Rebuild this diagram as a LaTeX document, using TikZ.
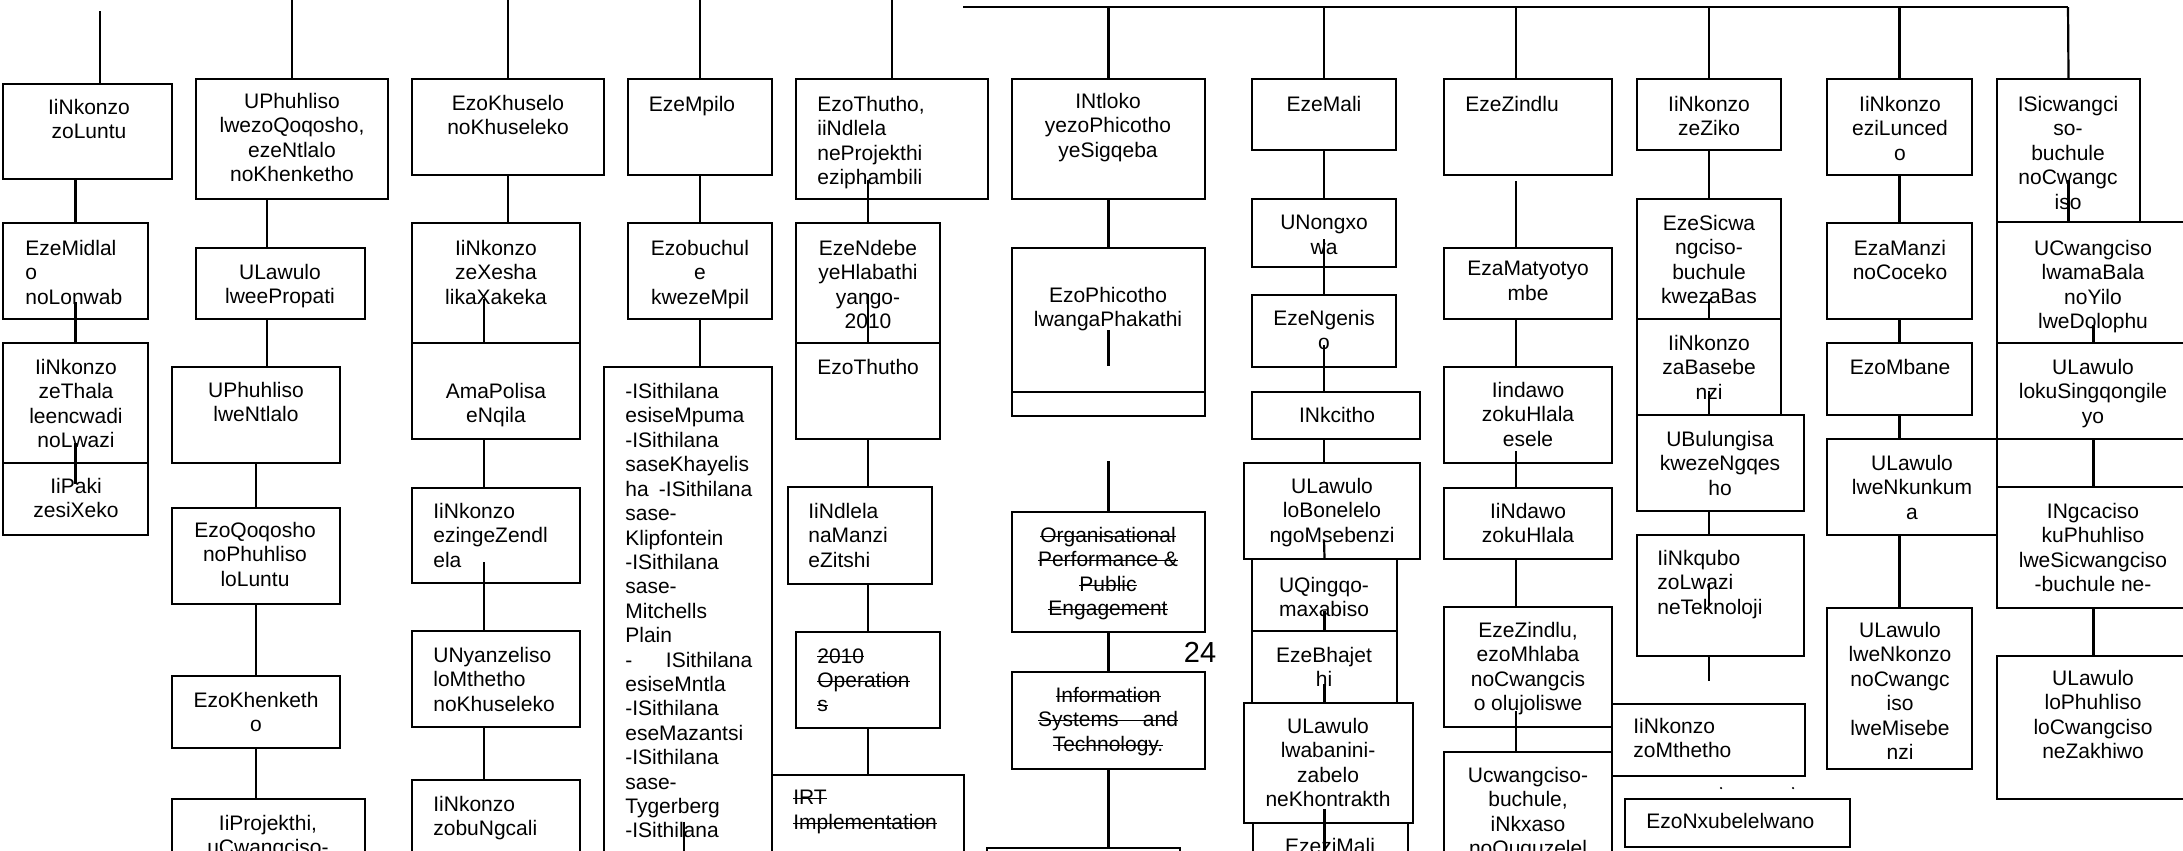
\documentclass[tikz,border=0pt]{standalone}
\usepackage{fontspec}
\setmainfont{Liberation Sans}
\newcommand\strk[1]{\setbox0\hbox{#1}\rlap{\rule[0.27em]{\wd0}{0.5pt}}\box0}
\usetikzlibrary{fit,calc}
\begin{document}
\begin{tikzpicture}[x=0.02cm, y=-0.02cm,
		orgbox/.style={draw, line width=1.25pt, inner sep=0pt},
		lbl/.style={inner sep=0pt, align=center, anchor=north,
		font=\fontsize{11.95pt}{13.89pt}\selectfont},
		lbll/.style={lbl, align=left, anchor=north west},
		link/.style={line width=1.25pt} ]
	\useasboundingbox (0,0) rectangle (2183,850);
	\coordinate (t1) at (100,11);
	\coordinate (t2) at (292,0);
	\coordinate (t3) at (508,0);
	\coordinate (t4) at (700,0);
	\coordinate (t5) at (892,0);
	\coordinate (busl) at (963,7);
	\coordinate (busr) at (2068,7);

	\node[orgbox, fit={(3,84) (172,179)}] (a1) {};
	\node[orgbox, fit={(3,223) (148,319)}] (a2) {};
	\node[orgbox, fit={(3,343) (148,463)}] (a3) {};
	\node[orgbox, fit={(3,463) (148,535)}] (a4) {};
	\node[orgbox, fit={(196,79) (388,199)}] (b1) {};
	\node[orgbox, fit={(196,248) (365,319)}] (b2) {};
	\node[orgbox, fit={(172,367) (340,463)}] (b3) {};
	\node[orgbox, fit={(172,508) (340,604)}] (b4) {};
	\node[orgbox, fit={(172,676) (340,748)}] (b5) {};
	\node[orgbox, fit={(172,799) (365,880)}] (b6) {};
	\node[orgbox, fit={(412,79) (604,175)}] (c1) {};
	\node[orgbox, fit={(412,223) (580,343)}] (c2) {};
	\node[orgbox, fit={(412,343) (580,439)}] (c3) {};
	\node[orgbox, fit={(412,488) (580,583)}] (c4) {};
	\node[orgbox, fit={(412,631) (580,727)}] (c5) {};
	\node[orgbox, fit={(412,780) (580,880)}] (c6) {};
	\node[orgbox, fit={(628,79) (772,175)}] (d1) {};
	\node[orgbox, fit={(628,223) (772,319)}] (d2) {};
	\node[orgbox, fit={(604,367) (772,880)}] (d3) {};
	\node[orgbox, fit={(796,79) (988,199)}] (e1) {};
	\node[orgbox, fit={(796,223) (940,343)}] (e2) {};
	\node[orgbox, fit={(796,343) (940,439)}] (e3) {};
	\node[orgbox, fit={(788,487) (932,584)}] (e4) {};
	\node[orgbox, fit={(796,632) (940,728)}] (e5) {};
	\node[orgbox, fit={(772,775) (964,880)}] (e6) {};
	\node[orgbox, fit={(1012,79) (1205,199)}] (f1) {};
	\node[orgbox, fit={(1012,248) (1205,392)}] (f2) {};
	\node[orgbox, fit={(1012,392) (1205,416)}] (f3) {};
	\node[orgbox, fit={(1012,512) (1205,632)}] (f4) {};
	\node[orgbox, fit={(1012,672) (1205,769)}] (f5) {};
	\node[orgbox, fit={(987,848) (1180,880)}] (f6) {};
	\node[orgbox, fit={(1252,79) (1396,150)}] (g1) {};
	\node[orgbox, fit={(1252,199) (1396,267)}] (g2) {};
	\node[orgbox, fit={(1252,295) (1396,367)}] (g3) {};
	\node[orgbox, fit={(1252,392) (1420,439)}] (g4) {};
	\node[orgbox, fit={(1244,463) (1420,559)}] (g5) {};
	\node[orgbox, fit={(1252,559) (1397,631)}] (g6) {};
	\node[orgbox, fit={(1252,631) (1397,703)}] (g7) {};
	\node[orgbox, fit={(1244,703) (1413,823)}] (g8) {};
	\node[orgbox, fit={(1253,823) (1408,880)}] (g9) {};
	\node[orgbox, fit={(1444,79) (1612,175)}] (h1) {};
	\node[orgbox, fit={(1444,248) (1612,319)}] (h2) {};
	\node[orgbox, fit={(1444,367) (1612,463)}] (h3) {};
	\node[orgbox, fit={(1444,488) (1612,559)}] (h4) {};
	\node[orgbox, fit={(1444,607) (1612,727)}] (h5) {};
	\node[orgbox, fit={(1444,752) (1612,880)}] (h6) {};
	\node[orgbox, fit={(1637,79) (1781,150)}] (i1) {};
	\node[orgbox, fit={(1637,199) (1781,319)}] (i2) {};
	\node[orgbox, fit={(1637,319) (1781,415)}] (i3) {};
	\node[orgbox, fit={(1637,415) (1804,511)}] (i4) {};
	\node[orgbox, fit={(1637,535) (1804,656)}] (i5) {};
	\node[orgbox, fit={(1612,704) (1805,776)}] (i6) {};
	\node[orgbox, fit={(1625,799) (1850,847)}] (i7) {};
	\node[orgbox, fit={(1827,79) (1972,175)}] (j1) {};
	\node[orgbox, fit={(1827,223) (1972,319)}] (j2) {};
	\node[orgbox, fit={(1827,343) (1972,415)}] (j3) {};
	\node[orgbox, fit={(1827,439) (1997,535)}] (j4) {};
	\node[orgbox, fit={(1827,608) (1972,769)}] (j5) {};
	\node[orgbox, fit={(1997,79) (2140,222)}] (k1) {};
	\node[orgbox, fit={(1997,222) (2190,343)}] (k2) {};
	\node[orgbox, fit={(1997,343) (2190,439)}] (k3) {};
	\node[orgbox, fit={(1997,487) (2190,608)}] (k4) {};
	\node[orgbox, fit={(1997,656) (2190,799)}] (k5) {};

	\node[lbl] (a1t) at (89,99) {IiNkonzo\\zoLuntu};
	\node[lbll] (a2t) at (25,240) {EzeMidlal\\o\\noLonwab};
	\node[lbl] (a3t) at (76,359) {IiNkonzo\\zeThala\\leencwadi\\noLwazi};
	\node[lbl] (a4t) at (76,478) {IiPaki\\zesiXeko};
	\node[lbl] (b1t) at (292,93) {UPhuhliso\\lwezoQoqosho,\\ezeNtlalo\\noKhenketho};
	\node[lbl] (b2t) at (280,264) {ULawulo\\lweePropati};
	\node[lbl] (b3t) at (256,382) {UPhuhliso\\lweNtlalo};
	\node[lbl] (b4t) at (255,522) {EzoQoqosho\\noPhuhliso\\loLuntu};
	\node[lbl] (b5t) at (256,692) {EzoKhenketh\\o};
	\node[lbl] (b6t) at (268,815) {IiProjekthi,\\uCwangciso-};
	\node[lbl] (c1t) at (508,95) {EzoKhuselo\\noKhuseleko};
	\node[lbl] (c2t) at (496,240) {IiNkonzo\\zeXesha\\likaXakeka};
	\node[lbl] (c3t) at (496,383) {AmaPolisa\\eNqila};
	\node[lbll] (c4t) at (433,503) {IiNkonzo\\ezingeZendl\\ela};
	\node[lbll] (c5t) at (433,647) {UNyanzeliso\\loMthetho\\noKhuseleko};
	\node[lbll] (c6t) at (433,796) {IiNkonzo\\zobuNgcali};
	\node[lbl] (d1t) at (692,96) {EzeMpilo};
	\node[lbl] (d2t) at (700,240) {Ezobuchul\\e\\kwezeMpil};
	\node[lbll] (d3t) at (625,383) {-ISithilana\\esiseMpuma\\-ISithilana\\saseKhayelis\\
		\makebox[2.54cm][s]{ha -ISithilana}\\sase-\\Klipfontein\\-ISithilana\\sase-\\Mitchells\\Plain\\
		\makebox[2.54cm][s]{- ISithilana}\\esiseMntla\\-ISithilana\\eseMazantsi\\-ISithilana\\sase-\\
		Tygerberg\\-ISithilana};
	\node[lbll] (e1t) at (817,96) {EzoThutho,\\iiNdlela\\neProjekthi\\eziphambili};
	\node[lbl] (e2t) at (868,240) {EzeNdebe\\yeHlabathi\\yango-\\2010};
	\node[lbll] (e3t) at (817,359) {EzoThutho};
	\node[lbll] (e4t) at (808,503) {IiNdlela\\naManzi\\eZitshi};
	\node[lbll] (e5t) at (817,648) {\strk{2010}\\\strk{Operation}\\\strk{s}};
	\node[lbll] (e6t) at (793,790) {\strk{IRT}\\\strk{Implementation}};
	\node[lbl] (f1t) at (1108,93) {INtloko\\yezoPhicotho\\yeSigqeba};
	\node[lbl] (f2t) at (1108,287) {EzoPhicotho\\lwangaPhakathi};
	\node[lbl] (f4t) at (1108,527) {\strk{Organisational}\\\strk{Performance \&}\\\strk{Public}\\\strk{Engagement}};
	\node[lbl] (f5t) at (1108,687) {\strk{Information}\\\strk{\makebox[2.8cm][s]{Systems and}}\\\strk{Technology.}};
	\node[inner sep=0pt, font=\fontsize{16.5pt}{19pt}\selectfont] (pg) at (1200,652) {24};
	\node[lbl] (g1t) at (1324,96) {EzeMali};
	\node[lbl] (g2t) at (1324,215) {UNongxo\\wa};
	\node[lbl] (g3t) at (1324,310) {EzeNgenis\\o};
	\node[lbl] (g4t) at (1337,407) {INkcitho};
	\node[lbl] (g5t) at (1332,478) {ULawulo\\loBonelelo\\ngoMsebenzi};
	\node[lbl] (g6t) at (1324,577) {UQingqo-\\maxabiso};
	\node[lbl] (g7t) at (1324,647) {EzeBhajet\\hi};
	\node[lbl] (g8t) at (1328,718) {ULawulo\\lwabanini-\\zabelo\\neKhontrakth};
	\node[lbl] (g9t) at (1330,838) {EzeziMali};
	\node[lbll] (h1t) at (1465,96) {EzeZindlu};
	\node[lbl] (h2t) at (1528,261) {EzaMatyotyo\\mbe};
	\node[lbl] (h3t) at (1528,382) {Iindawo\\zokuHlala\\esele};
	\node[lbl] (h4t) at (1528,503) {IiNdawo\\zokuHlala};
	\node[lbl] (h5t) at (1528,622) {EzeZindlu,\\ezoMhlaba\\noCwangcis\\o olujoliswe};
	\node[lbl] (h6t) at (1528,767) {Ucwangciso-\\buchule,\\iNkxaso\\noQuquzelel};
	\node[lbl] (i1t) at (1709,96) {IiNkonzo\\zeZiko};
	\node[lbl] (i2t) at (1709,215) {EzeSicwa\\ngciso-\\buchule\\kwezaBas};
	\node[lbl] (i3t) at (1709,335) {IiNkonzo\\zaBasebe\\nzi};
	\node[lbl] (i4t) at (1720,431) {UBulungisa\\kwezeNgqes\\ho};
	\node[lbll] (i5t) at (1657,550) {IiNkqubo\\zoLwazi\\neTeknoloji};
	\node[lbll] (i6t) at (1633,718) {IiNkonzo\\zoMthetho};
	\node[lbll] (i7t) at (1646,813) {EzoNxubelelwano};
	\node[lbl] (j1t) at (1900,96) {IiNkonzo\\eziLunced\\o};
	\node[lbl] (j2t) at (1900,240) {EzaManzi\\noCoceko};
	\node[lbl] (j3t) at (1900,359) {EzoMbane};
	\node[lbl] (j4t) at (1912,455) {ULawulo\\lweNkunkum\\a};
	\begin{scope}
		\clip (1827,608) rectangle (1972,758);
		\node[lbl] (j5t) at (1900,622) {ULawulo\\lweNkonzo\\noCwangc\\iso\\lweMisebe\\nzi};
	\end{scope}
	\node[lbl] (k1t) at (2068,96) {ISicwangci\\so-\\buchule\\noCwangc\\iso};
	\node[lbl] (k2t) at (2093,240) {UCwangciso\\lwamaBala\\noYilo\\lweDolophu};
	\node[lbl] (k3t) at (2093,359) {ULawulo\\lokuSingqongile\\yo};
	\node[lbl] (k4t) at (2093,503) {INgcaciso\\kuPhuhliso\\lweSicwangciso\\-buchule ne-};
	\node[lbl] (k5t) at (2093,670) {ULawulo\\loPhuhliso\\loCwangciso\\neZakhiwo};
	\fill (1721,788) circle (0.7pt);
	\fill (1793,788) circle (0.7pt);

	\draw[link] (t1) -- (a1.north -| t1);
	\draw[link] (a1.south -| a2) -- (a2.north);
	\draw[link] ($(a2.south)+(0,-18)$) -- (a3.north);
	\draw[link] ($(a3.south)+(0,-21)$) -- ($(a4.north)+(0,22)$);
	\draw[link] (t2) -- (b1.north);
	\draw[link] (b1.south -| 267,0) -- (b2.north -| 267,0);
	\draw[link] (b2.south -| 267,0) -- (b3.north -| 267,0);
	\draw[link] (b3.south) -- (b4.north);
	\draw[link] (b4.south) -- (b5.north);
	\draw[link] (b5.south) -- (b6.north -| b5);
	\draw[link] (t3) -- (c1.north);
	\draw[link] (c1.south) -- (c2.north -| c1);
	\draw[link] ($(c2.south -| 484,0)+(0,-45)$) -- (c3.north -| 484,0);
	\draw[link] (c3.south -| 484,0) -- (c4.north -| 484,0);
	\draw[link] ($(c4.south -| 484,0)+(0,-22)$) -- (c5.north -| 484,0);
	\draw[link] (c5.south -| 484,0) -- (c6.north -| 484,0);
	\draw[link] (t4) -- (d1.north);
	\draw[link] (d1.south) -- (d2.north);
	\draw[link] (d2.south) -- (d3.north -| d2);
	\draw[link] ($(d3.north -| 684,0)+(0,456)$) -- ($(d3.north -| 684,0)+(0,490)$);
	\draw[link] (t5) -- (e1.north);
	\draw[link] ($(e1.south -| 868,0)+(0,-20)$) -- (e2.north);
	\draw[link] ($(e2.south)+(0,-50)$) -- (e3.north -| e2);
	\draw[link] (e3.south -| e2) -- (e4.north -| e2);
	\draw[link] (e4.south -| e2) -- (e5.north -| e2);
	\draw[link] (e5.south -| e2) -- (e6.north -| e2);
	\draw[link] (busl) -- (busr);
	\draw[link] (busl -| f1) -- (f1.north);
	\draw[link] (busl -| g1) -- (g1.north);
	\draw[link] (busl -| 1516,0) -- (h1.north -| 1516,0);
	\draw[link] (busl -| i1) -- (i1.north);
	\draw[link] (busl -| j1) -- (j1.north);
	\draw[link] (busr) -- (k1.north);
	\draw[link] (f1.south) -- (f2.north);
	\draw[link] ($(f2.north)+(0,83)$) -- ($(f2.north)+(0,119)$);
	\draw[link] ($(f3.south)+(0,44)$) -- (f4.north);
	\draw[link] (f4.south) -- (f5.north);
	\draw[link] (f5.south) -- (f6.north -| f5);
	\draw[link] (g1.south) -- (g2.north);
	\draw[link] ($(g2.south)+(0,-29)$) -- (g3.north);
	\draw[link] ($(g3.south)+(0,-23)$) -- (g4.north -| g3);
	\draw[link] (g4.south -| g3) -- (g5.north -| g3);
	\draw[link] ($(g5.south -| g3)+(0,-20)$) -- (g6.north);
	\draw[link] ($(g6.south)+(0,-21)$) -- (g7.north);
	\draw[link] ($(g7.south)+(0,-20)$) -- (g8.north -| g7);
	\draw[link] ($(g8.south -| g7)+(0,-15)$) -- ($(g9.north -| g7)+(0,30)$);
	\draw[link] ($(h1.south -| 1516,0)+(0,5)$) -- (h2.north -| 1516,0);
	\draw[link] (h2.south -| 1516,0) -- (h3.north -| 1516,0);
	\draw[link] ($(h3.south -| 1516,0)+(0,-13)$) -- (h4.north -| 1516,0);
	\draw[link] (h4.south -| 1516,0) -- (h5.north -| 1516,0);
	\draw[link] ($(h5.south -| 1516,0)+(0,-17)$) -- (h6.north -| 1516,0);
	\draw[link] (i1.south) -- (i2.north);
	\draw[link] ($(i2.south)+(0,-21)$) -- (i3.north);
	\draw[link] ($(i3.south)+(0,-25)$) -- (i4.north -| i3);
	\draw[link] (i4.south -| i3) -- (i5.north -| i3);
	\draw[link] ($(i5.north -| i3)+(0,50)$) -- ($(i5.north -| i3)+(0,72)$);
	\draw[link] (i5.south -| i3) -- ($(i5.south -| i3)+(0,24)$);
	\draw[link] (j1.south) -- (j2.north);
	\draw[link] (j2.south) -- (j3.north);
	\draw[link] (j3.south) -- (j4.north -| j3);
	\draw[link] (j4.south -| j3) -- (j5.north);
	\draw[link] ($(k1.south)+(0,-43)$) -- (k2.north -| k1);
	\draw[link] ($(k2.south)+(0,-19)$) -- (k3.north);
	\draw[link] (k3.south) -- (k4.north);
	\draw[link] (k4.south) -- (k5.north);
\end{tikzpicture}
\end{document}
